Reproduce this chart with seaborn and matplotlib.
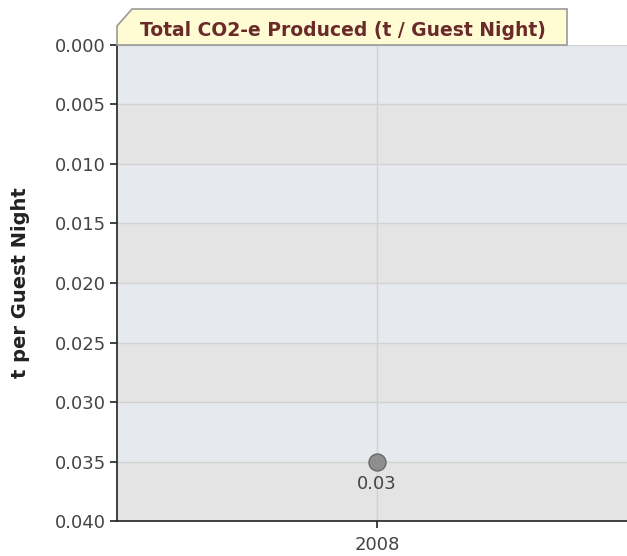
import matplotlib
matplotlib.use("Agg")
import matplotlib.pyplot as plt
import seaborn as sns
import pandas as pd
from matplotlib.patches import Polygon

# Data
years = ["2008"]
values = [0.035]
point_labels = ["0.03"]
y_ticks = [0.000, 0.005, 0.010, 0.015, 0.020, 0.025, 0.030, 0.035, 0.040]

TITLE = "Total CO2-e Produced (t / Guest Night)"
YLABEL = "t per Guest Night"

W, H = 627, 556
df = pd.DataFrame({"year": years, "value": values})

sns.set_style("white")
plt.rcParams['font.family'] = ['DejaVu Sans']

fig = plt.figure(figsize=(W / 100, H / 100), dpi=100)
ax = fig.add_axes([117 / W, (H - 521) / H, (W - 117) / W, (521 - 45) / H])

# alternating bands between gridlines
band_colors = ["#e6e9ed", "#e4e4e4"]
for i in range(len(y_ticks) - 1):
    ax.axhspan(y_ticks[i], y_ticks[i + 1], color=band_colors[i % 2], zorder=0, lw=0)

sns.scatterplot(data=df, x="year", y="value", ax=ax, s=150, color="#8e8e8e",
                edgecolor="#6a6a6a", linewidth=1.0, zorder=5, legend=False)

for x, v, lab in zip(df["year"], df["value"], point_labels):
    ax.annotate(lab, (x, v), xytext=(0, -10), textcoords="offset points",
                ha="center", va="top", fontsize=13, color="#444444")

ax.set_xlim(-0.51, 0.49)
ax.set_ylim(y_ticks[-1], y_ticks[0])
ax.set_yticks(y_ticks)
ax.set_yticklabels([f"{t:.3f}" for t in y_ticks])
ax.grid(True, color="#d2d2d2", lw=1.0, zorder=1)
ax.set_axisbelow(True)
ax.set_xlabel("")
ax.set_ylabel(YLABEL, fontsize=14, fontweight="bold", color="#222222")
ax.yaxis.set_label_coords(-0.17, 0.5)

for s in ["top", "right"]:
    ax.spines[s].set_visible(False)
for s in ["left", "bottom"]:
    ax.spines[s].set_color("#222222")
    ax.spines[s].set_linewidth(1.2)
ax.tick_params(axis="both", direction="out", length=5, width=1.2, color="#222222",
               labelsize=13, labelcolor="#444444", pad=3)
ax.tick_params(axis="y", left=True)
ax.tick_params(axis="x", bottom=True, pad=6)

# title tab
pts = [(117, 45), (117, 26), (132, 9), (567, 9), (567, 45)]
pts = [(x / W, (H - y) / H) for x, y in pts]
tab = Polygon(pts, closed=True, transform=fig.transFigure, facecolor="#fffbd2",
              edgecolor="#9a9a9a", lw=1.2, zorder=10)
fig.patches.append(tab)
fig.text(343 / W, (H - 30) / H, TITLE, ha="center", va="center", fontsize=13.5,
         fontweight="bold", color="#6b2a2a", zorder=11)

fig.savefig("out.png", dpi=100)
